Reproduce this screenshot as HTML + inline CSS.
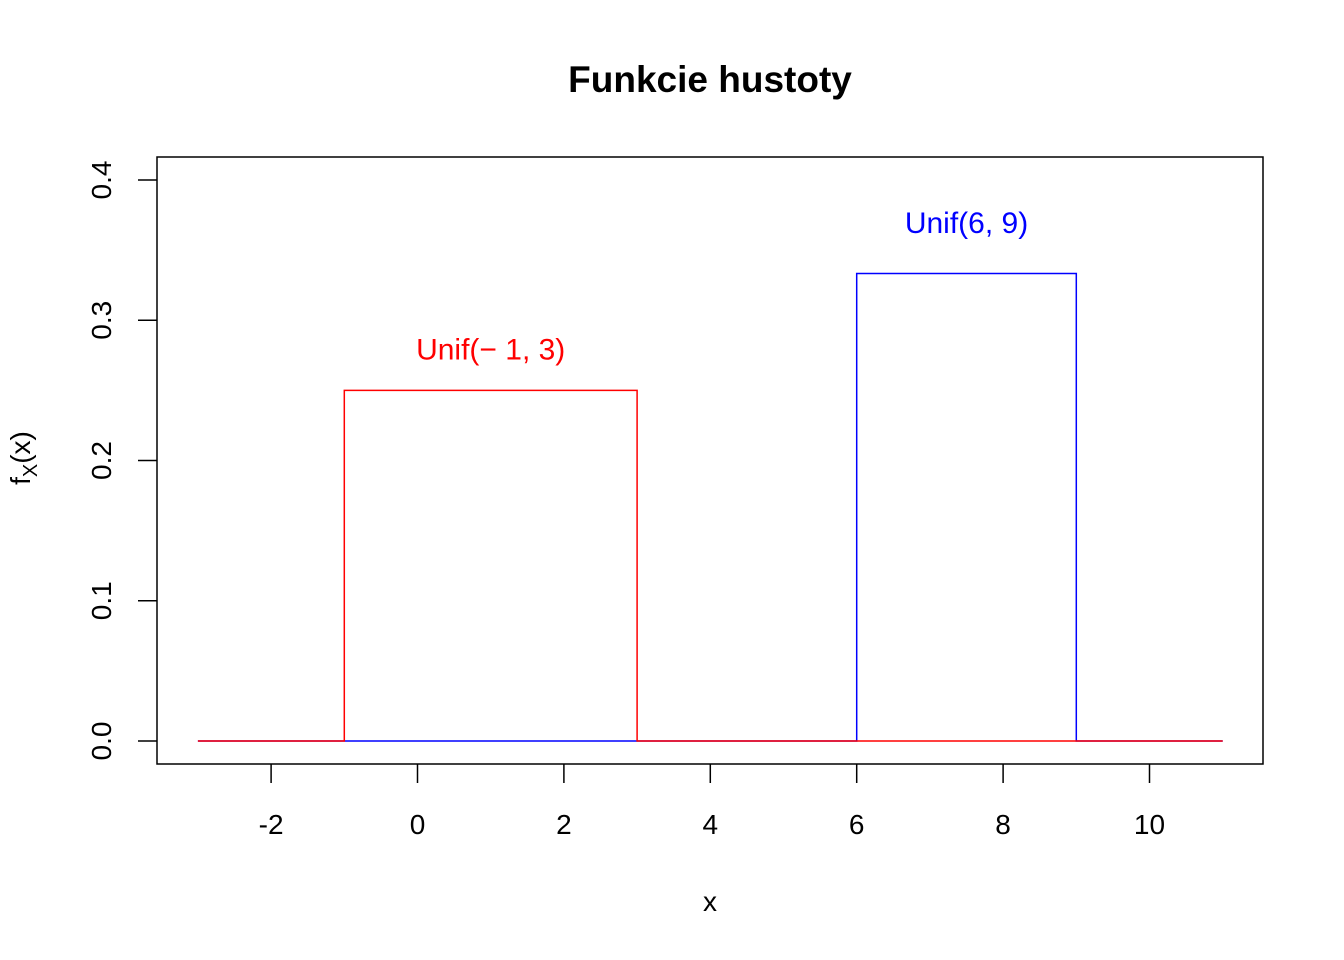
<!DOCTYPE html>
<html><head><meta charset="utf-8"><style>
html,body{margin:0;padding:0;background:#fff;}
svg{display:block;font-family:"Liberation Sans",Arial,sans-serif;}
</style></head><body>
<svg id="chart" width="1344" height="960" viewBox="0 0 1344 960">
<text x="710" y="92" text-anchor="middle" font-size="37" font-weight="bold">Funkcie hustoty</text>
<rect x="157" y="157" width="1106" height="607" fill="none" stroke="#000" stroke-width="1.5"/>
<g id="xaxis"></g>
<g id="yaxis"></g>
<g id="series"></g>
<text x="710" y="911" text-anchor="middle" font-size="28">x</text>
<text transform="translate(30,458) rotate(-90)" text-anchor="middle" font-size="28">f<tspan font-size="20" dy="7">X</tspan><tspan dy="-7">(x)</tspan></text>
</svg>
<script>
const xTicks = [-2, 0, 2, 4, 6, 8, 10];
const yTicks = [0, 0.1, 0.2, 0.3, 0.4];
const xRange = [-3, 11];
const seriesNames = ["Unif(6, 9)", "Unif(-1, 3)"];
const seriesA = [6, 9];
const seriesB = [-1, 3];
const seriesColors = ["#0000ff", "#ff0000"];
const labelY = [0.36, 0.27];

const X = v => 417.5 + (v - 0) * 73.2;
const Y = v => 741 - v * 1402.5;
const NS = "http://www.w3.org/2000/svg";
function mk(tag, attrs, parent, text) {
  const e = document.createElementNS(NS, tag);
  for (const k in attrs) e.setAttribute(k, attrs[k]);
  if (text !== undefined) e.textContent = text;
  parent.appendChild(e);
  return e;
}
const xa = document.getElementById('xaxis');
xTicks.forEach(t => {
  const l = mk('line', {x1: X(t), x2: X(t), y1: 764, y2: 783, stroke: '#000', 'stroke-width': 1.5}, xa);
  
  
  const tx = mk('text', {x: X(t), y: 834, 'text-anchor': 'middle', 'font-size': 28}, xa, String(t));
  
  
});
const ya = document.getElementById('yaxis');
yTicks.forEach(t => {
  const l = mk('line', {x1: 138, x2: 157, y1: Y(t), y2: Y(t), stroke: '#000', 'stroke-width': 1.5}, ya);
  
  
  const tx = mk('text', {transform: `translate(111,${Y(t)}) rotate(-90)`, 'text-anchor': 'middle', 'font-size': 28}, ya, t.toFixed(1));
  
  
});
const sg = document.getElementById('series');
[seriesA, seriesB].forEach((s, i) => {
  const h = 1 / (s[1] - s[0]);
  const pts = [[xRange[0], 0], [s[0], 0], [s[0], h], [s[1], h], [s[1], 0], [xRange[1], 0]];
  const p = mk('polyline', {points: pts.map(q => X(q[0]) + ',' + Y(q[1])).join(' '), fill: 'none', stroke: seriesColors[i], 'stroke-width': 1.5}, sg);
  
  
  const name = seriesNames[i].replace('-', '\u2212 ');
  const t = mk('text', {x: X((s[0] + s[1]) / 2), y: Y(labelY[i]) - 3, 'text-anchor': 'middle', 'font-size': 30, fill: seriesColors[i]}, sg, name);
  
  
});
</script>
</body></html>
